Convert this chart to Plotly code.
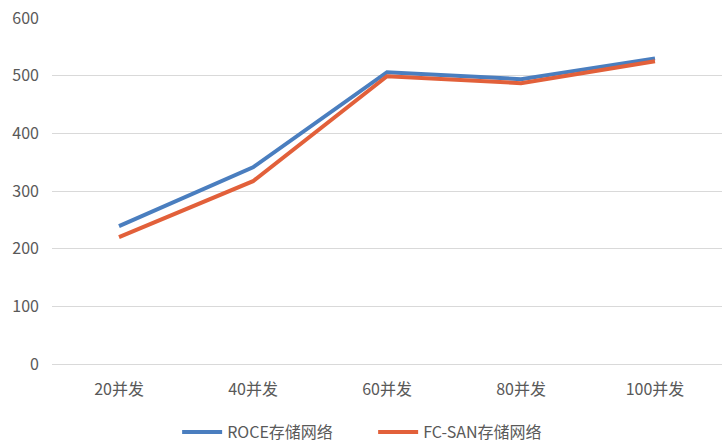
import plotly.graph_objects as go

categories = ["20并发", "40并发", "60并发", "80并发", "100并发"]
roce_values = [239, 341, 506, 494, 530]
fcsan_values = [220, 317, 499, 487, 525]
y_ticks = [0, 100, 200, 300, 400, 500, 600]

font_family = "Noto Sans CJK SC, Microsoft YaHei, sans-serif"
text_color = "#595959"

fig = go.Figure()
fig.add_trace(go.Scatter(
    x=categories, y=roce_values, name="ROCE存储网络", mode="lines",
    line=dict(color="#4A7EBF", width=4),
))
fig.add_trace(go.Scatter(
    x=categories, y=fcsan_values, name="FC-SAN存储网络", mode="lines",
    line=dict(color="#E2603A", width=4),
))

fig.update_layout(
    width=723, height=444,
    margin=dict(l=52, r=1, t=18, b=80),
    paper_bgcolor="white", plot_bgcolor="white",
    font=dict(family=font_family, size=16, color=text_color),
    showlegend=True,
    legend=dict(
        orientation="h", xref="container", yref="container",
        x=0.245, xanchor="left", y=0.027, yanchor="middle",
        font=dict(size=16, color=text_color),
        itemwidth=40, entrywidth=141,
    ),
    xaxis=dict(
        type="category", range=[-0.5, 4.5],
        showgrid=False, showline=False, zeroline=False,
        ticks="", ticklabelstandoff=14,
        tickfont=dict(size=16, color=text_color),
    ),
    yaxis=dict(
        range=[0, 600], tickvals=y_ticks,
        showgrid=True, gridcolor="#D9D9D9", gridwidth=1,
        zeroline=True, zerolinecolor="#D9D9D9", zerolinewidth=1,
        showline=False, ticks="", ticklabelstandoff=12,
        tickfont=dict(size=16, color=text_color),
    ),
)

fig.write_html("out.html")
